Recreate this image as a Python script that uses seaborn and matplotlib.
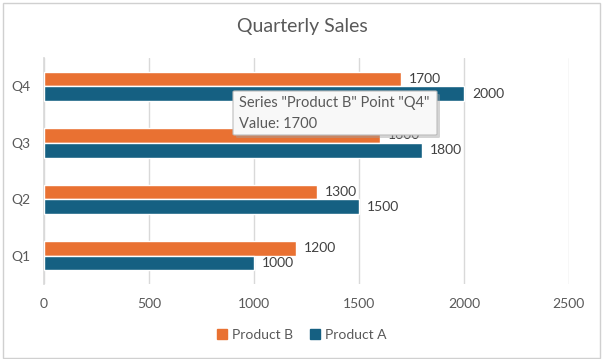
import pandas as pd
import seaborn as sns
import matplotlib.pyplot as plt
from matplotlib.patches import FancyBboxPatch, Rectangle

# data
quarters = ["Q4", "Q3", "Q2", "Q1"]
product_a = [2000, 1800, 1500, 1000]
product_b = [1700, 1600, 1300, 1200]
series_order = ["Product B", "Product A"]
colors = {"Product B": "#E97132", "Product A": "#156082"}
x_ticks = [0, 500, 1000, 1500, 2000, 2500]

df = pd.DataFrame({
    "quarter": quarters * 2,
    "series": ["Product A"] * 4 + ["Product B"] * 4,
    "sales": product_a + product_b,
})

sns.set_theme(style="white")
plt.rcParams["font.family"] = ["Lato", "DejaVu Sans"]
text_col = "#595959"
W, H = 604, 359

fig = plt.figure(figsize=(6.04, 3.59), dpi=100)
ax = fig.add_axes([0.0728, 0.209, 0.869, 0.629])

sns.barplot(data=df, x="sales", y="quarter", hue="series", order=quarters,
            hue_order=series_order, palette=colors, orient="h", width=0.52,
            saturation=1, ax=ax, zorder=3)

ax.set_xlim(0, 2500)
ax.set_xticks(x_ticks)
ax.grid(axis="x", color="#d9d9d9", linewidth=1, zorder=0)
ax.grid(axis="y", visible=False)
for side in ["top", "right", "bottom"]:
    ax.spines[side].set_visible(False)
ax.spines["left"].set_color("#d9d9d9")
ax.tick_params(axis="x", length=0, pad=10, labelsize=10, labelcolor=text_col)
ax.tick_params(axis="y", length=0, pad=10, labelsize=10, labelcolor=text_col)
ax.set_xlabel("")
ax.set_ylabel("")

# data labels at bar ends
for cont in ax.containers:
    ax.bar_label(cont, labels=[f"{int(v)}" for v in cont.datavalues],
                 padding=6, fontsize=10, color="#404040", zorder=4)

ax.legend_.remove()
handles = [Rectangle((0, 0), 1, 1, color=colors[s]) for s in series_order]
fig.legend(handles, series_order, loc="center", bbox_to_anchor=(0.5, 0.067),
           ncol=2, frameon=False, fontsize=10, handlelength=0.7,
           handleheight=0.7, handletextpad=0.4, columnspacing=1.2,
           labelcolor=text_col)

fig.text(0.5, 0.925, "Quarterly Sales", ha="center", va="center",
         fontsize=14, color=text_col)

# chart frame
fig.patches.append(Rectangle((0.005, 0.003), 0.988, 0.99, transform=fig.transFigure,
                             fill=False, edgecolor="#d0d0d0", linewidth=1))

# hover tooltip (pixel box 233..437 x 91..135 from the top)
tx, ty, tw, th = 233 / W, 1 - 135 / H, 204 / W, 44 / H
tip_shadow = FancyBboxPatch((tx + 3 / W, ty - 3 / H), tw, th,
                            boxstyle="round,pad=0,rounding_size=0.003",
                            transform=fig.transFigure, facecolor="#a0a0a0",
                            edgecolor="none", alpha=0.45, zorder=5)
tip = FancyBboxPatch((tx, ty), tw, th, boxstyle="round,pad=0,rounding_size=0.003",
                     transform=fig.transFigure, facecolor="#f8f8f8",
                     edgecolor="#bdbdbd", linewidth=0.8, zorder=6)
fig.patches.extend([tip_shadow, tip])
fig.text(239 / W, 1 - 103 / H, 'Series "Product B" Point "Q4"', va="center",
         fontsize=10.5, color=text_col, zorder=7)
fig.text(239 / W, 1 - 124 / H, "Value: 1700", va="center",
         fontsize=10.5, color=text_col, zorder=7)

fig.savefig("out.png", dpi=100)
